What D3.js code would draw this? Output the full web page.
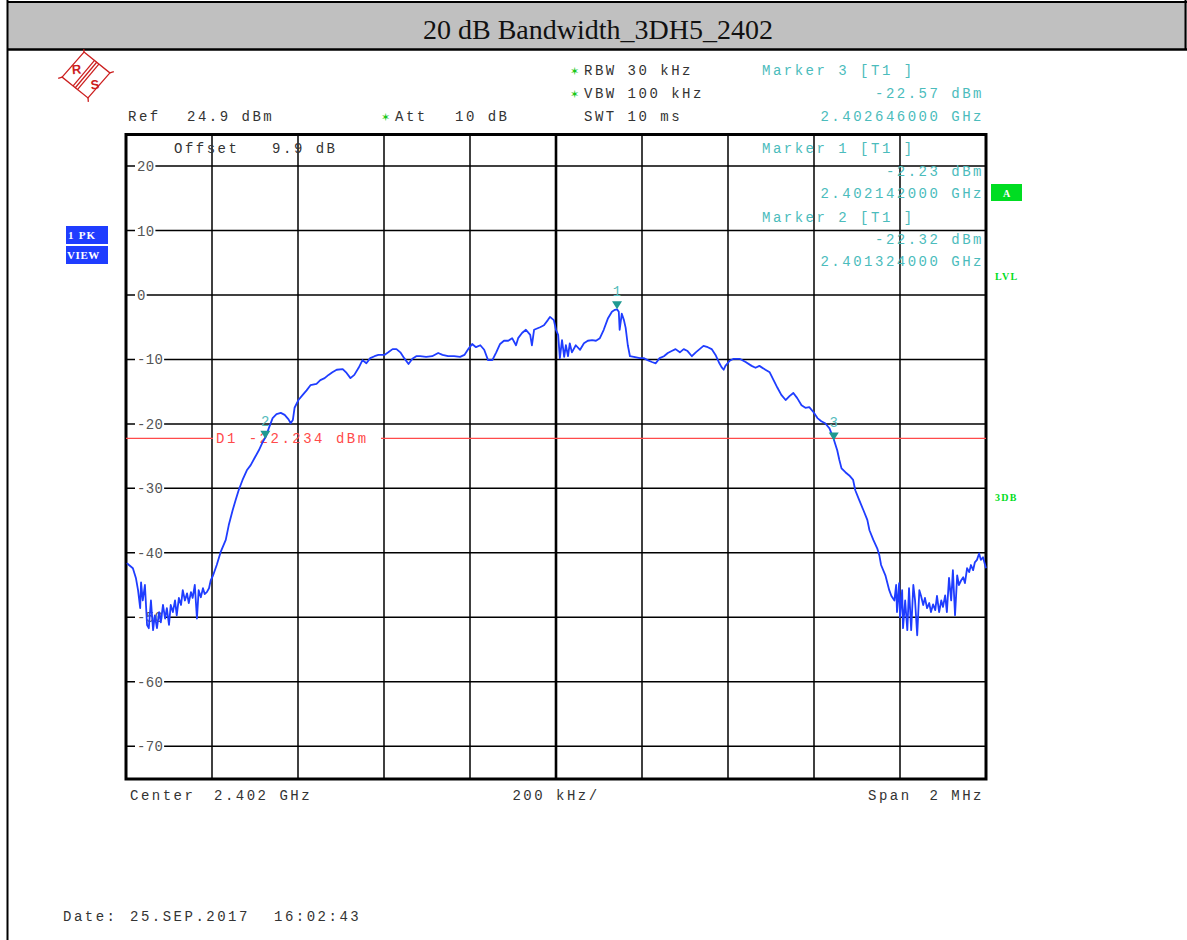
<!DOCTYPE html>
<html><head><meta charset="utf-8">
<script src="https://cdn.jsdelivr.net/npm/d3@7/dist/d3.min.js"></script>
<style>body{margin:0;background:#fff}svg{display:block}text{white-space:pre}</style>
</head><body>
<script>
// ---- DATA ----
const freqKHz = [-998,-993,-984,-977,-972,-967,-965,-961,-956,-951,-947,-942,-937,-933,-928,-923,-919,-914,-909,-905,-900,-896,-891,-886,-882,-877,-872,-868,-863,-858,-854,-849,-845,-840,-835,-831,-826,-821,-817,-812,-807,-803,-798,-789,-780,-768,-761,-752,-745,-738,-729,-719,-710,-701,-691,-682,-675,-668,-659,-650,-640,-631,-622,-617,-612,-608,-599,-589,-580,-571,-557,-548,-538,-529,-520,-510,-496,-487,-478,-469,-459,-450,-441,-432,-422,-413,-399,-390,-380,-371,-362,-353,-343,-334,-325,-316,-302,-288,-274,-264,-251,-237,-223,-213,-204,-195,-186,-176,-167,-158,-148,-139,-130,-121,-111,-102,-93,-88,-79,-70,-60,-56,-51,-37,-28,-19,-14,-5,0,5,9,14,19,23,28,32,37,46,56,65,74,84,93,102,111,121,130,137,142,146,148,153,158,162,167,172,181,195,204,213,223,232,241,251,260,269,278,288,297,306,316,325,334,343,353,362,371,380,385,390,394,404,413,427,441,455,464,473,487,497,506,515,524,534,543,552,561,571,580,589,599,608,617,626,636,645,654,659,664,673,682,691,696,705,715,724,729,738,747,752,756,766,775,780,787,791,793,798,800,805,807,812,817,821,826,831,835,840,845,849,854,858,863,868,872,877,882,886,891,896,900,905,909,914,919,923,928,933,937,942,947,951,956,961,965,970,974,979,984,988,993,998,1000];
const levelDbm = [-41.6,-41.9,-42.4,-43.9,-45.8,-48.6,-44.6,-47.4,-45.0,-51.2,-51.7,-47.4,-52.0,-49.7,-51.7,-49.2,-50.8,-48.1,-50.2,-48.6,-51.2,-48.1,-49.2,-47.4,-49.7,-47.0,-48.1,-45.8,-47.4,-46.3,-47.8,-46.1,-47.0,-45.0,-50.2,-45.8,-46.9,-45.5,-46.4,-46.1,-45.5,-44.3,-43.6,-41.9,-39.9,-38.0,-35.7,-33.4,-31.8,-30.3,-28.7,-27.2,-26.4,-25.3,-24.1,-22.8,-22.0,-20.7,-19.1,-18.5,-18.3,-18.6,-19.3,-19.9,-19.4,-17.5,-16.3,-15.5,-14.8,-14.0,-13.8,-13.2,-12.9,-12.4,-12.0,-11.6,-11.5,-12.1,-12.9,-12.4,-11.3,-10.1,-10.6,-9.8,-9.5,-9.3,-9.3,-8.9,-8.4,-8.4,-8.9,-9.8,-10.7,-9.9,-9.5,-9.5,-9.6,-9.5,-9.0,-9.3,-9.5,-9.5,-9.6,-9.3,-8.4,-7.6,-8.1,-7.8,-8.5,-10.1,-10.1,-8.9,-7.6,-7.1,-7.1,-6.7,-7.8,-6.7,-5.9,-5.4,-6.2,-7.8,-5.4,-5.0,-4.7,-3.9,-3.4,-3.9,-5.4,-6.2,-9.8,-7.0,-9.6,-7.8,-9.5,-7.5,-8.9,-7.8,-8.5,-7.5,-7.1,-7.0,-7.1,-6.7,-5.4,-3.6,-2.6,-2.3,-2.23,-2.6,-5.4,-2.9,-3.9,-5.1,-7.8,-9.5,-9.6,-9.8,-9.8,-10.1,-10.4,-10.6,-9.8,-9.5,-9.0,-8.7,-8.4,-8.9,-8.4,-8.7,-9.5,-8.9,-8.4,-7.9,-8.1,-8.4,-9.3,-10.6,-11.2,-11.6,-11.0,-10.2,-9.9,-9.9,-10.4,-11.0,-11.3,-11.0,-11.6,-12.0,-13.2,-14.4,-15.5,-16.3,-15.7,-15.2,-16.0,-17.1,-17.5,-17.4,-18.2,-19.1,-19.6,-19.9,-20.7,-22.2,-24.1,-25.6,-26.9,-27.5,-28.0,-28.7,-30.3,-31.8,-33.4,-34.9,-36.5,-38.0,-39.3,-40.4,-41.9,-43.5,-45.8,-46.7,-47.4,-45.0,-49.2,-44.7,-50.0,-45.8,-51.7,-47.4,-52.0,-45.5,-52.0,-45.0,-47.4,-52.8,-45.8,-46.7,-48.1,-47.0,-48.6,-47.8,-49.2,-48.0,-48.9,-46.7,-49.2,-47.4,-48.4,-46.6,-49.2,-43.9,-47.4,-42.7,-49.7,-43.5,-45.0,-44.3,-43.8,-44.7,-42.4,-43.0,-41.9,-42.7,-41.5,-41.1,-40.1,-41.1,-40.7,-41.9,-42.4];
const yTickValues = [20,10,0,-10,-20,-30,-40,-50,-60,-70];
const xTickValues = [-800,-600,-400,-200,0,200,400,600,800];
const markerIds = [1,2,3];
const markerFreqKHz = [142,-676,646];
const markerLevels = [-2.23,-22.32,-22.57];
const displayLineLevel = -22.234;
const refLevel = 24.9, bottomLevel = -75.1;

// ---- DRAW ----
const W = 1187, H = 940;
const mono = "'Liberation Mono','DejaVu Sans Mono',monospace";
const svg = d3.select("body").append("svg").attr("width", W).attr("height", H);

// header
svg.append("rect").attr("x", 8).attr("y", 3).attr("width", W - 8).attr("height", 46).attr("fill", "#c0c0c0");
svg.append("line").attr("x1", 7).attr("x2", W).attr("y1", 2).attr("y2", 2).attr("stroke", "#000").attr("stroke-width", 2);
svg.append("line").attr("x1", 7).attr("x2", W).attr("y1", 49.5).attr("y2", 49.5).attr("stroke", "#000").attr("stroke-width", 2.5);
svg.append("line").attr("x1", 7.5).attr("x2", 7.5).attr("y1", 0).attr("y2", H).attr("stroke", "#000").attr("stroke-width", 2);
svg.append("line").attr("x1", 1185.5).attr("x2", 1185.5).attr("y1", 0).attr("y2", 50).attr("stroke", "#000").attr("stroke-width", 2);
svg.append("text").attr("x", 598).attr("y", 39).attr("text-anchor", "middle")
  .attr("font-family", "'Liberation Serif','Times New Roman',serif").attr("font-size", 28).attr("fill", "#111")
  .text("20 dB Bandwidth_3DH5_2402");

// R&S logo
const logo = svg.append("g").attr("transform", "translate(86,75) rotate(-5)").attr("stroke", "#cc1f1f").attr("fill", "none").attr("stroke-width", 1.3);
logo.append("path").attr("d", "M0,-23 L24,0 L0,23 L-24,0 Z");
logo.append("path").attr("d", "M-24,0 L-28,1 M24,0 L28,-1 M0,23 L0,27 M0,-23 L0,-26");
[-2, 0, 2].forEach(o => logo.append("line").attr("x1", 12 + o).attr("y1", -12 + o).attr("x2", -12 + o).attr("y2", 12 + o));
logo.append("text").attr("x", -9).attr("y", -2).attr("text-anchor", "middle").attr("stroke", "none").attr("fill", "#cc1f1f")
  .attr("font-family", "'Liberation Sans',sans-serif").attr("font-size", 13).attr("font-weight", "bold").text("R");
logo.append("text").attr("x", 8).attr("y", 15).attr("text-anchor", "middle").attr("stroke", "none").attr("fill", "#cc1f1f")
  .attr("font-family", "'Liberation Sans',sans-serif").attr("font-size", 13).attr("font-weight", "bold").text("S");

// scales
const x = d3.scaleLinear().domain([-1000, 1000]).range([126, 986]);
const y = d3.scaleLinear().domain([bottomLevel, refLevel]).range([779, 134.5]);

// grid
const grid = svg.append("g");
grid.selectAll("line.v").data(xTickValues).join("line")
  .attr("x1", d => x(d)).attr("x2", d => x(d)).attr("y1", y(refLevel)).attr("y2", y(bottomLevel))
  .attr("stroke", "#000").attr("stroke-width", d => d === 0 ? 2.6 : 1.5);
grid.selectAll("line.h").data(yTickValues).join("line")
  .attr("x1", x(-1000)).attr("x2", x(1000)).attr("y1", d => y(d)).attr("y2", d => y(d))
  .attr("stroke", "#000").attr("stroke-width", 1.5);
const yl = svg.append("g");
yTickValues.forEach(v => {
  const t = yl.append("text").attr("x", 137).attr("y", y(v) + 5)
    .attr("font-family", mono).attr("font-size", 14).attr("letter-spacing", 0.3).attr("fill", "#555").text(String(v));
  const w = t.node().getComputedTextLength();
  yl.insert("rect", "text").attr("x", 135).attr("y", y(v) - 3).attr("width", w + 3).attr("height", 6).attr("fill", "#fff");
});
// frame
svg.append("rect").attr("x", x(-1000)).attr("y", y(refLevel)).attr("width", x(1000) - x(-1000)).attr("height", y(bottomLevel) - y(refLevel))
  .attr("fill", "none").attr("stroke", "#000").attr("stroke-width", 3);

// display line D1
const dl = svg.append("g").attr("stroke", "#ff4a4a").attr("stroke-width", 1.3);
dl.append("line").attr("x1", x(-1000)).attr("x2", 213).attr("y1", y(displayLineLevel)).attr("y2", y(displayLineLevel));
dl.append("line").attr("x1", 381).attr("x2", x(1000)).attr("y1", y(displayLineLevel)).attr("y2", y(displayLineLevel));
svg.append("text").attr("x", 216).attr("y", y(displayLineLevel) + 5).attr("font-family", mono).attr("font-size", 14)
  .attr("letter-spacing", 2.5).attr("fill", "#ff4a4a").text("D1 -22.234 dBm");

// trace
const pts = freqKHz.map((f, i) => [f, levelDbm[i]]);
svg.append("path").datum(pts)
  .attr("d", d3.line().x(d => x(d[0])).y(d => y(d[1])))
  .attr("fill", "none").attr("stroke", "#1f3dff").attr("stroke-width", 1.8).attr("stroke-linejoin", "round");

// markers
markerIds.forEach((id, i) => {
  const mx = x(markerFreqKHz[i]), my = y(markerLevels[i]);
  svg.append("path").attr("d", `M${mx - 5},${my - 8}L${mx + 5},${my - 8}L${mx},${my}Z`).attr("fill", "#1f9a92");
  svg.append("text").attr("x", mx).attr("y", my - 13).attr("text-anchor", "middle").attr("font-family", mono)
    .attr("font-size", 14).attr("fill", "#55bcbc").text(String(id));
});

// info texts
const txt = (s, tx, ty, fill, anchor) => svg.append("text").attr("x", tx).attr("y", ty)
  .attr("text-anchor", anchor || "start").attr("font-family", mono).attr("font-size", 14)
  .attr("letter-spacing", 2.5).attr("fill", fill || "#333").text(s);
const star = (tx, ty) => svg.append("text").attr("x", tx).attr("y", ty).attr("font-family", "'DejaVu Sans',sans-serif")
  .attr("font-size", 11).attr("fill", "#19c819").text("\u2736");
star(570, 75); star(570, 98); star(381, 121);
txt("RBW 30 kHz", 584, 75);
txt("VBW 100 kHz", 584, 98);
txt("SWT 10 ms", 584, 121);
txt("Ref", 128, 121); txt("24.9 dBm", 187, 121);
txt("Att", 395, 121); txt("10 dB", 455, 121);
txt("Offset   9.9 dB", 174, 153);
const mk = "#4bbcbc";
txt("Marker 3 [T1 ]", 762, 75, mk);
txt("-22.57 dBm", 984, 98, mk, "end");
txt("2.402646000 GHz", 984, 121, mk, "end");
txt("Marker 1 [T1 ]", 762, 153, mk);
txt("-2.23 dBm", 984, 176, mk, "end");
txt("2.402142000 GHz", 984, 198, mk, "end");
txt("Marker 2 [T1 ]", 762, 222, mk);
txt("-22.32 dBm", 984, 244, mk, "end");
txt("2.401324000 GHz", 984, 266, mk, "end");
txt("Center", 130, 800); txt("2.402 GHz", 214, 800);
txt("200 kHz/", 556, 800, "#333", "middle");
txt("Span", 868, 800); txt("2 MHz", 984, 800, "#333", "end");
txt("Date:", 63, 921); txt("25.SEP.2017", 130, 921); txt("16:02:43", 274, 921);

// side boxes
const serifB = "'Liberation Serif','Times New Roman',serif";
svg.append("rect").attr("x", 66).attr("y", 226).attr("width", 42).attr("height", 18).attr("fill", "#1f3dff");
svg.append("rect").attr("x", 66).attr("y", 246).attr("width", 42).attr("height", 18).attr("fill", "#1f3dff");
svg.append("text").attr("x", 68).attr("y", 239).attr("font-family", serifB).attr("font-weight", "bold").attr("font-size", 11)
  .attr("letter-spacing", 1.2).attr("fill", "#fff").text("1 PK");
svg.append("text").attr("x", 67).attr("y", 259).attr("font-family", serifB).attr("font-weight", "bold").attr("font-size", 11)
  .attr("letter-spacing", 0.6).attr("fill", "#fff").text("VIEW");
svg.append("rect").attr("x", 991).attr("y", 184).attr("width", 31).attr("height", 17).attr("fill", "#00dd22");
svg.append("text").attr("x", 1006.5).attr("y", 197).attr("text-anchor", "middle").attr("font-family", serifB).attr("font-weight", "bold")
  .attr("font-size", 10).attr("fill", "#fff").text("A");
svg.append("text").attr("x", 995).attr("y", 280).attr("font-family", serifB).attr("font-weight", "bold").attr("font-size", 10)
  .attr("letter-spacing", 1.3).attr("fill", "#00dd22").text("LVL");
svg.append("text").attr("x", 995).attr("y", 501).attr("font-family", serifB).attr("font-weight", "bold").attr("font-size", 10)
  .attr("letter-spacing", 1.3).attr("fill", "#00dd22").text("3DB");
</script>
</body></html>
